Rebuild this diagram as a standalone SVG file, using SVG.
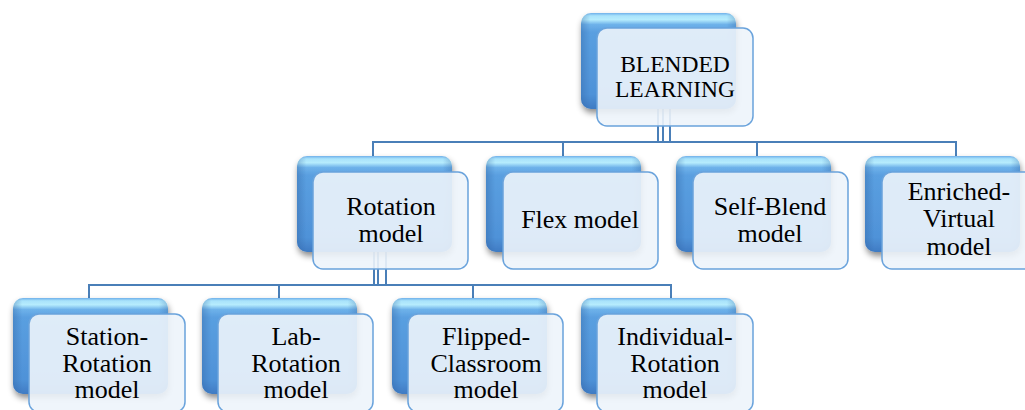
<svg xmlns="http://www.w3.org/2000/svg" width="1025" height="410" viewBox="0 0 1025 410">
<defs>
<linearGradient id="blueG" x1="0" y1="0" x2="0" y2="1">
<stop offset="0" stop-color="#6fb0ea"/>
<stop offset="0.03" stop-color="#a9e3fb"/>
<stop offset="0.07" stop-color="#b6ecfd"/>
<stop offset="0.12" stop-color="#6eb2ea"/>
<stop offset="0.2" stop-color="#5a9fe0"/>
<stop offset="0.85" stop-color="#4f92d8"/>
<stop offset="1" stop-color="#3f7bc3"/>
</linearGradient>
<linearGradient id="sideG" x1="0" y1="0" x2="1" y2="0">
<stop offset="0" stop-color="#2d5f9e" stop-opacity="0.35"/>
<stop offset="0.06" stop-color="#2d5f9e" stop-opacity="0"/>
<stop offset="0.94" stop-color="#2d5f9e" stop-opacity="0"/>
<stop offset="1" stop-color="#2d5f9e" stop-opacity="0.3"/>
</linearGradient>
<filter id="sh" x="-20%" y="-20%" width="140%" height="150%">
<feDropShadow dx="1" dy="4" stdDeviation="3" flood-color="#000" flood-opacity="0.45"/>
</filter>
<style>
.back{fill:url(#blueG);filter:url(#sh)}
.gloss{fill:url(#sideG)}
.front{fill:#edf4fb;fill-opacity:0.9;stroke:#6aa3dc;stroke-width:1.5}
.conn{fill:none;stroke:#4a7fb8;stroke-width:2}
.t{fill:#000;text-anchor:middle}
.t1{font-size:23.5px}
.t2{font-size:26px}
</style>
</defs>
<rect width="1025" height="410" fill="#fff"/>
<g id="connectors">
<line class="conn" x1="658" y1="105" x2="658" y2="142"/>
<line class="conn" x1="663" y1="105" x2="663" y2="142"/>
<line class="conn" x1="670" y1="105" x2="670" y2="142"/>
<polyline class="conn" points="373,157 373,142 956,142 956,157"/>
<line class="conn" x1="563" y1="142" x2="563" y2="157"/>
<line class="conn" x1="757" y1="142" x2="757" y2="157"/>
<line class="conn" x1="374" y1="250" x2="374" y2="285"/>
<line class="conn" x1="378" y1="250" x2="378" y2="285"/>
<line class="conn" x1="386" y1="250" x2="386" y2="285"/>
<polyline class="conn" points="89,300 89,285 671,285 671,300"/>
<line class="conn" x1="279" y1="285" x2="279" y2="300"/>
<line class="conn" x1="473" y1="285" x2="473" y2="300"/>
</g>
<g font-family="'Liberation Serif', 'DejaVu Serif', 'Times New Roman', serif">
<g id="blended">
<rect class="back" x="581" y="13" width="155" height="96" rx="10"/>
<rect class="gloss" x="581" y="13" width="155" height="96" rx="10"/>
<rect class="front" x="597" y="28" width="156" height="98" rx="10"/>
<text class="t t1" x="675" y="72">BLENDED</text>
<text class="t t1" x="675" y="97">LEARNING</text>
</g>
<g id="rotation">
<rect class="back" x="297" y="156" width="155" height="96" rx="10"/>
<rect class="gloss" x="297" y="156" width="155" height="96" rx="10"/>
<rect class="front" x="313" y="172" width="155" height="97" rx="10"/>
<text class="t t2" x="391" y="215">Rotation</text>
<text class="t t2" x="391" y="242">model</text>
</g>
<g id="flex">
<rect class="back" x="486" y="156" width="155" height="96" rx="10"/>
<rect class="gloss" x="486" y="156" width="155" height="96" rx="10"/>
<rect class="front" x="503" y="172" width="155" height="97" rx="10"/>
<text class="t t2" x="580" y="228">Flex model</text>
</g>
<g id="selfblend">
<rect class="back" x="676" y="156" width="155" height="96" rx="10"/>
<rect class="gloss" x="676" y="156" width="155" height="96" rx="10"/>
<rect class="front" x="693" y="172" width="155" height="97" rx="10"/>
<text class="t t2" x="770" y="215">Self-Blend</text>
<text class="t t2" x="770" y="242">model</text>
</g>
<g id="enriched">
<rect class="back" x="865" y="156" width="155" height="96" rx="10"/>
<rect class="gloss" x="865" y="156" width="155" height="96" rx="10"/>
<rect class="front" x="882" y="172" width="155" height="97" rx="10"/>
<text class="t t2" x="959" y="200">Enriched-</text>
<text class="t t2" x="959" y="227">Virtual</text>
<text class="t t2" x="959" y="255">model</text>
</g>
<g id="station">
<rect class="back" x="13" y="298" width="155" height="96" rx="10"/>
<rect class="gloss" x="13" y="298" width="155" height="96" rx="10"/>
<rect class="front" x="29" y="314" width="156" height="98" rx="10"/>
<text class="t t2" x="107" y="345">Station-</text>
<text class="t t2" x="107" y="372">Rotation</text>
<text class="t t2" x="107" y="398">model</text>
</g>
<g id="lab">
<rect class="back" x="202" y="298" width="155" height="96" rx="10"/>
<rect class="gloss" x="202" y="298" width="155" height="96" rx="10"/>
<rect class="front" x="218" y="314" width="155" height="98" rx="10"/>
<text class="t t2" x="296" y="345">Lab-</text>
<text class="t t2" x="296" y="372">Rotation</text>
<text class="t t2" x="296" y="398">model</text>
</g>
<g id="flipped">
<rect class="back" x="392" y="298" width="155" height="96" rx="10"/>
<rect class="gloss" x="392" y="298" width="155" height="96" rx="10"/>
<rect class="front" x="408" y="314" width="155" height="98" rx="10"/>
<text class="t t2" x="486" y="345">Flipped-</text>
<text class="t t2" x="486" y="372">Classroom</text>
<text class="t t2" x="486" y="398">model</text>
</g>
<g id="individual">
<rect class="back" x="581" y="298" width="155" height="96" rx="10"/>
<rect class="gloss" x="581" y="298" width="155" height="96" rx="10"/>
<rect class="front" x="597" y="314" width="156" height="98" rx="10"/>
<text class="t t2" x="675" y="345">Individual-</text>
<text class="t t2" x="675" y="372">Rotation</text>
<text class="t t2" x="675" y="398">model</text>
</g>
</g>
</svg>
